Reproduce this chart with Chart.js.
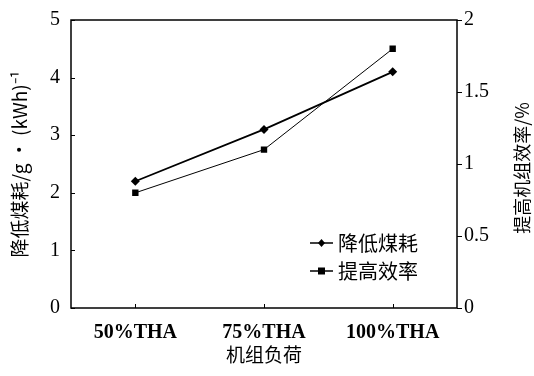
<!DOCTYPE html>
<html>
<head>
<meta charset="utf-8">
<script src="https://cdn.jsdelivr.net/npm/chart.js@4"></script>
<style>
  html, body { margin: 0; padding: 0; background: #fff; }
  #wrap { width: 534px; height: 376px; }
</style>
</head>
<body>
<div id="wrap"><canvas id="chart" width="534" height="376"></canvas></div>
<script>
const loads = ["50%THA", "75%THA", "100%THA"];
const coalSaving = [2.2, 3.1, 4.1];     // left axis, g/(kWh)
const effGain = [0.8, 1.1, 1.8];        // right axis, %
const leftTicks = [0, 1, 2, 3, 4, 5];
const rightTicks = [0, 0.5, 1, 1.5, 2];
const rightTitle = "提高机组效率/%";

const serif = "'Liberation Serif', 'Noto Sans CJK SC', serif";
const cjk = "'Noto Sans CJK SC', 'Liberation Serif', serif";

// frame box + inward ticks on left and bottom, right title reading upward
const framePlugin = {
  id: "frame",
  afterDraw(chart) {
    const { ctx, chartArea: a, scales } = chart;
    ctx.save();
    ctx.strokeStyle = "#000";
    ctx.lineWidth = 1.5;
    ctx.strokeRect(a.left, a.top, a.right - a.left, a.bottom - a.top);
    ctx.lineWidth = 1;
    ctx.beginPath();
    leftTicks.forEach((v) => {
      const y = Math.round(scales.y.getPixelForValue(v)) + 0.5;
      ctx.moveTo(a.left, y);
      ctx.lineTo(a.left + 4, y);
    });
    loads.forEach((_, i) => {
      const x = Math.round(scales.x.getPixelForValue(i)) + 0.5;
      ctx.moveTo(x, a.bottom);
      ctx.lineTo(x, a.bottom - 4);
    });
    ctx.stroke();

    ctx.translate(522, (a.top + a.bottom) / 2 + 4);
    ctx.rotate(-Math.PI / 2);
    ctx.fillStyle = "#000";
    ctx.font = "18px " + cjk;
    ctx.textAlign = "center";
    ctx.textBaseline = "middle";
    ctx.fillText(rightTitle, 0, 0);
    ctx.restore();
  },
};

// legend drawn inside plot, lower right
const legendPlugin = {
  id: "insideLegend",
  afterDraw(chart) {
    const { ctx } = chart;
    const rows = [243, 271];
    ctx.save();
    chart.data.datasets.forEach((ds, i) => {
      const y = rows[i];
      ctx.strokeStyle = "#000";
      ctx.lineWidth = 1.5;
      ctx.beginPath();
      ctx.moveTo(310, y);
      ctx.lineTo(333, y);
      ctx.stroke();
      ctx.fillStyle = "#000";
      ctx.beginPath();
      if (ds.pointStyle === "rect") {
        ctx.rect(318, y - 3.5, 7, 7);
      } else {
        ctx.moveTo(321.5, y - 4);
        ctx.lineTo(325, y);
        ctx.lineTo(321.5, y + 4);
        ctx.lineTo(318, y);
        ctx.closePath();
      }
      ctx.fill();
      ctx.font = "20px " + cjk;
      ctx.textBaseline = "middle";
      ctx.fillText(ds.label, 338, y);
    });
    ctx.restore();
  },
};

new Chart(document.getElementById("chart"), {
  type: "line",
  data: {
    labels: loads,
    datasets: [
      {
        label: "降低煤耗",
        data: coalSaving,
        yAxisID: "y",
        borderColor: "#000",
        backgroundColor: "#000",
        borderWidth: 1.8,
        pointStyle: "rectRot",
        pointRadius: 4.5,
        pointBorderWidth: 0,
      },
      {
        label: "提高效率",
        data: effGain,
        yAxisID: "y1",
        borderColor: "#000",
        backgroundColor: "#000",
        borderWidth: 1,
        pointStyle: "rect",
        pointRadius: 4.5,
        pointBorderWidth: 0,
      },
    ],
  },
  options: {
    responsive: false,
    animation: false,
    layout: { padding: { top: 20, left: 8, right: 0, bottom: 6 } },
    plugins: { legend: { display: false }, tooltip: { enabled: false } },
    scales: {
      x: {
        offset: true,
        grid: { display: false },
        border: { display: false },
        ticks: { color: "#000", font: { family: serif, size: 20, weight: "bold" }, padding: 5 },
        title: { display: true, text: "机组负荷", color: "#000", font: { family: cjk, size: 19 }, padding: { top: 0 } },
        afterFit: (s) => { s.height = 62; },
      },
      y: {
        position: "left",
        min: 0, max: 5,
        afterBuildTicks: (s) => { s.ticks = leftTicks.map((v) => ({ value: v })); },
        grid: { display: false },
        border: { display: false },
        ticks: { color: "#000", font: { family: serif, size: 20 }, padding: 3 },
        title: { display: true, text: "降低煤耗/g · (kWh)⁻¹", color: "#000", font: { family: cjk, size: 19 }, padding: 0 },
        afterFit: (s) => { s.width = 63; },
      },
      y1: {
        position: "right",
        min: 0, max: 2,
        afterBuildTicks: (s) => { s.ticks = rightTicks.map((v) => ({ value: v })); },
        grid: { drawOnChartArea: false, tickLength: 5, color: "#000" },
        border: { display: false },
        ticks: { color: "#000", font: { family: serif, size: 20 }, padding: 2, callback: (v) => String(v) },
        title: { display: false },
        afterFit: (s) => { s.width = 77; },
      },
    },
  },
  plugins: [framePlugin, legendPlugin],
});
</script>
</body>
</html>
